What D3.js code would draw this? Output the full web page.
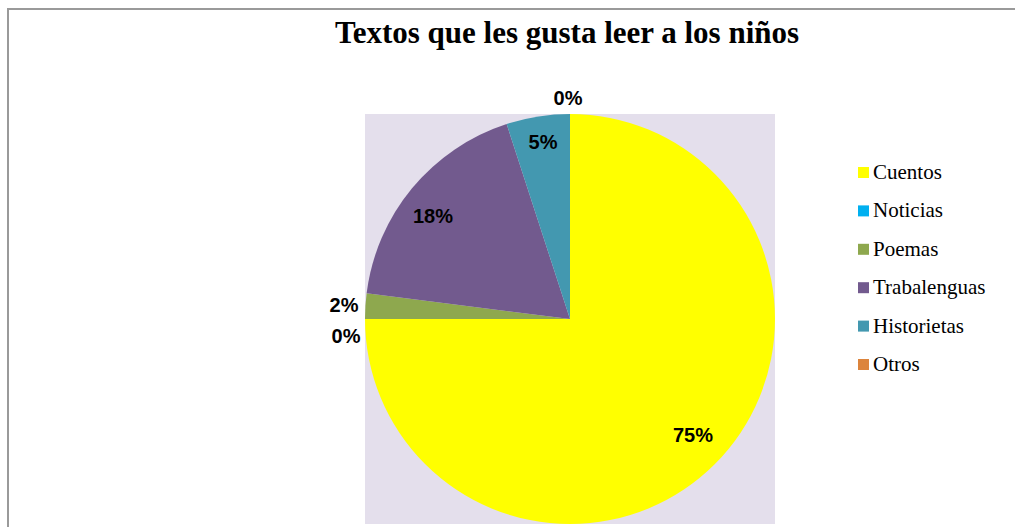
<!DOCTYPE html>
<html>
<head>
<meta charset="utf-8">
<script src="https://cdn.jsdelivr.net/npm/d3@7"></script>
<style>
  body { margin: 0; background: #fff; }
</style>
</head>
<body>
<script>
"use strict";
// chart data
const categories = ["Cuentos", "Noticias", "Poemas", "Trabalenguas", "Historietas", "Otros"]
const percents = [75, 0, 2, 18, 5, 0]
const colors = ["#ffff00", "#00b0f0", "#8ea84e", "#725a8e", "#4398b0", "#dc843c"]
const title = "Textos que les gusta leer a los niños"

const width = 1015, height = 527
const cx = 570, cy = 319, radius = 205

const svg = d3.select("body").append("svg")
    .attr("width", width)
    .attr("height", height)

// outer frame (top and left edges visible)
svg.append("path")
    .attr("d", `M8,${height} L8,9 L${width},9`)
    .attr("fill", "none")
    .attr("stroke", "#9a9a9a")
    .attr("stroke-width", 2)

// plot area background
svg.append("rect")
    .attr("x", cx - radius)
    .attr("y", cy - radius)
    .attr("width", radius * 2)
    .attr("height", radius * 2)
    .attr("fill", "#e4dfec")

svg.append("text")
    .attr("x", 567)
    .attr("y", 43)
    .attr("text-anchor", "middle")
    .attr("font-family", "'Liberation Serif', 'Times New Roman', serif")
    .attr("font-weight", "bold")
    .attr("font-size", 31)
    .attr("fill", "#000")
    .text(title)

const pie = d3.pie().sort(null).value(d => d)
const arcs = pie(percents)
const arc = d3.arc().innerRadius(0).outerRadius(radius)

const g = svg.append("g").attr("transform", `translate(${cx},${cy})`)

g.selectAll("path.slice")
    .data(arcs)
    .enter()
    .append("path")
        .attr("class", "slice")
        .attr("d", arc)
        .attr("fill", (d, i) => colors[i])

// label positions, relative to the pie centre
const labelPos = [[123, 116], [-224, 17], [-226, -14], [-137, -103], [-27, -177], [-2, -221]]

g.selectAll("text.lbl")
    .data(arcs)
    .enter()
    .append("text")
        .attr("class", "lbl")
        .attr("transform", (d, i) => `translate(${labelPos[i][0]},${labelPos[i][1]})`)
        .attr("text-anchor", "middle")
        .attr("dy", "0.35em")
        .attr("font-family", "'Liberation Sans', Arial, sans-serif")
        .attr("font-weight", "bold")
        .attr("font-size", 20)
        .attr("fill", "#000")
        .text(d => d.data + "%")

// legend
const legend = svg.append("g").attr("transform", "translate(858,172)")
const rows = legend.selectAll("g")
    .data(categories)
    .enter()
    .append("g")
        .attr("transform", (d, i) => `translate(0,${i * 38.4})`)

rows.append("rect")
    .attr("x", 0)
    .attr("y", -5)
    .attr("width", 11)
    .attr("height", 11)
    .attr("fill", (d, i) => colors[i])

rows.append("text")
    .attr("x", 15)
    .attr("y", 7)
    .attr("font-family", "'Liberation Serif', 'Times New Roman', serif")
    .attr("font-size", 21)
    .attr("fill", "#000")
    .text(d => d)
</script>
</body>
</html>
